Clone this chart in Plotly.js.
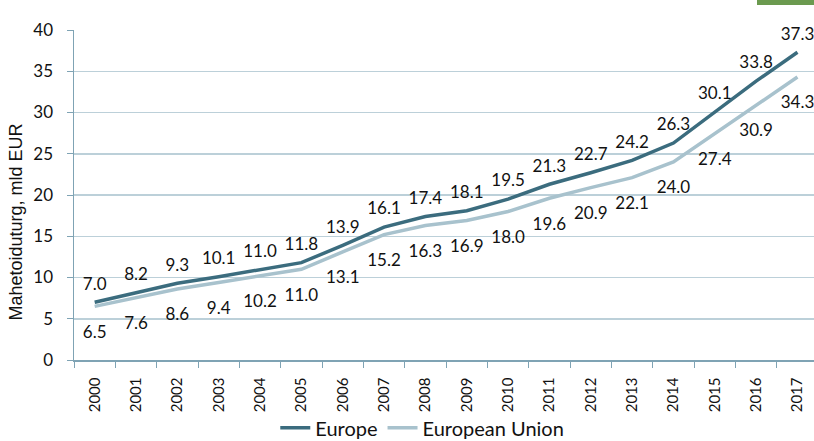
<!DOCTYPE html>
<html><head><meta charset="utf-8">
<script src="https://cdn.plot.ly/plotly-3.0.1.min.js"></script>
<style>html,body{margin:0;padding:0;background:#fff}#c{width:814px;height:441px;position:relative}
#g{position:absolute;left:757px;top:0;width:57px;height:5px;background:#6b9a4f}</style>
</head><body><div id="c"></div><div id="g"></div>
<script>
const years = ["2000","2001","2002","2003","2004","2005","2006","2007","2008","2009","2010","2011","2012","2013","2014","2015","2016","2017"];
const europe = [7.0,8.2,9.3,10.1,11.0,11.8,13.9,16.1,17.4,18.1,19.5,21.3,22.7,24.2,26.3,30.1,33.8,37.3];
const eu = [6.5,7.6,8.6,9.4,10.2,11.0,13.1,15.2,16.3,16.9,18.0,19.6,20.9,22.1,24.0,27.4,30.9,34.3];
const yTicks = [0,5,10,15,20,25,30,35,40];

const font = "Lato, 'Open Sans', sans-serif";
const darkC = "#3b6c7e", lightC = "#a8c2cd";

const traces = [
  {x:years,y:eu,type:'scatter',mode:'lines',name:'European Union',line:{color:lightC,width:3.5}},
  {x:years,y:europe,type:'scatter',mode:'lines',name:'Europe',line:{color:darkC,width:3.5}},
  {x:years,y:europe,type:'scatter',mode:'markers+text',text:europe.map(v=>v.toFixed(1)),textposition:'top center',
   marker:{size:12,opacity:0},textfont:{family:font,size:17,color:'#111'},showlegend:false,hoverinfo:'skip',cliponaxis:false},
  {x:years,y:eu,type:'scatter',mode:'markers+text',text:eu.map(v=>v.toFixed(1)),textposition:'bottom center',
   marker:{size:28,opacity:0},textfont:{family:font,size:17,color:'#111'},showlegend:false,hoverinfo:'skip',cliponaxis:false}
];

const layout = {
  width:814,height:441,
  margin:{l:74,r:0,t:30,b:81,autoexpand:false},
  paper_bgcolor:'#fff',plot_bgcolor:'#fff',
  font:{family:font,color:'#111'},
  xaxis:{type:'category',range:[-0.5,17.4],tickangle:-90,tickfont:{size:15,family:font},automargin:false,ticklabelstandoff:10,
    showgrid:false,showline:true,linecolor:'#7fa3b4',linewidth:1.5,ticks:'outside',tickson:'boundaries',ticklen:6,tickcolor:'#7fa3b4',zeroline:false,fixedrange:true},
  yaxis:{range:[0,40],tickvals:yTicks,ticktext:yTicks.map(String),tickfont:{size:17,family:font},automargin:false,ticklabelstandoff:10,
    showgrid:true,gridcolor:'#bcd0d9',gridwidth:1.5,showline:true,linecolor:'#7fa3b4',linewidth:1.5,ticks:'outside',ticklen:6,tickcolor:'#7fa3b4',zeroline:false,
    title:{text:"Mahetoiduturg, mld EUR<span style='color:rgba(0,0,0,0)'>xxxxxx</span>",font:{size:18,family:"'Liberation Sans', Arial, sans-serif"},standoff:6}},
  showlegend:true,
  legend:{orientation:'h',x:0.272,xanchor:'left',yref:'container',y:0.03,yanchor:'middle',bgcolor:'rgba(0,0,0,0)',font:{size:20,family:font},itemwidth:30,traceorder:'reversed'}
};
Plotly.newPlot('c',traces,layout,{displayModeBar:false,staticPlot:true});
</script></body></html>
